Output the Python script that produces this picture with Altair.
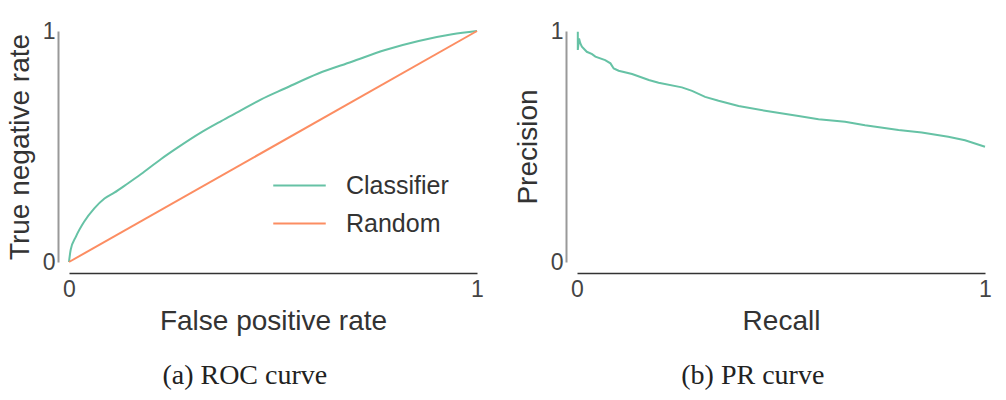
import altair as alt
import pandas as pd

# ROC curve (classifier)
roc_fpr = [0.0, 0.004, 0.017, 0.037, 0.062, 0.087, 0.111, 0.144, 0.176, 0.225, 0.266,
           0.323, 0.373, 0.417, 0.470, 0.529, 0.611, 0.693, 0.775, 0.857, 0.939, 1.0]
roc_tpr = [0.0, 0.052, 0.110, 0.174, 0.232, 0.275, 0.300, 0.340, 0.380, 0.445, 0.495,
           0.560, 0.610, 0.652, 0.703, 0.751, 0.816, 0.867, 0.918, 0.957, 0.986, 1.0]
# Random baseline
rand_fpr = [0.0, 1.0]
rand_tpr = [0.0, 1.0]
# PR curve
pr_recall = [0.002, 0.002, 0.005, 0.008, 0.012, 0.024, 0.037, 0.045, 0.069, 0.082, 0.090,
             0.102, 0.135, 0.176, 0.200, 0.257, 0.282, 0.314, 0.347, 0.396, 0.461, 0.543,
             0.592, 0.657, 0.706, 0.788, 0.845, 0.910, 0.951, 1.0]
pr_precision = [0.997, 0.918, 0.968, 0.947, 0.932, 0.910, 0.900, 0.889, 0.874, 0.860, 0.838,
                0.828, 0.814, 0.788, 0.776, 0.756, 0.741, 0.715, 0.698, 0.675, 0.655, 0.632,
                0.618, 0.607, 0.592, 0.571, 0.561, 0.542, 0.527, 0.499]

series_names = ["Classifier", "Random"]
series_colors = ["#66c2a5", "#fc8d62"]
tick_values = [0, 1]

roc_df = pd.DataFrame({
    "x": roc_fpr + rand_fpr,
    "y": roc_tpr + rand_tpr,
    "series": [series_names[0]] * len(roc_fpr) + [series_names[1]] * len(rand_fpr),
    "order": list(range(len(roc_fpr))) + list(range(len(rand_fpr))),
})
pr_df = pd.DataFrame({"x": pr_recall, "y": pr_precision, "order": list(range(len(pr_recall)))})

SANS = "Liberation Sans"
SERIF = "Liberation Serif"
W, H = 408, 231


def xaxis(title):
    return alt.Axis(title=title, values=tick_values, format="d", grid=False, ticks=False,
                    labelFlush=False, domainColor="#333333", domainWidth=1.5, offset=11,
                    labelFont=SANS, labelFontSize=23, labelColor="#444444", labelPadding=5,
                    titleFont=SANS, titleFontSize=28, titleFontWeight="normal",
                    titleColor="#333333", titlePadding=6)


def yaxis(title):
    return alt.Axis(title=title, values=tick_values, format="d", grid=False, ticks=False,
                    labelFlush=False, domainColor="#999999", domainWidth=2, offset=11,
                    labelFont=SANS, labelFontSize=23, labelColor="#444444", labelPadding=3,
                    titleFont=SANS, titleFontSize=28, titleFontWeight="normal",
                    titleColor="#333333", titlePadding=8)


roc = alt.Chart(roc_df).mark_line(strokeWidth=2, interpolate="monotone").encode(
    x=alt.X("x:Q", scale=alt.Scale(domain=[0, 1], nice=False), axis=xaxis("False positive rate")),
    y=alt.Y("y:Q", scale=alt.Scale(domain=[0, 1], nice=False), axis=yaxis("True negative rate")),
    color=alt.Color("series:N", scale=alt.Scale(domain=series_names, range=series_colors),
                    legend=alt.Legend(title=None, orient="none", legendX=212, legendY=136,
                                      padding=0, symbolType="M-1.5,0H1.5", symbolSize=1225,
                                      symbolStrokeWidth=2, labelFont=SANS, labelFontSize=25,
                                      labelColor="#333333", labelOffset=28, rowPadding=6)),
    order="order:Q",
).properties(
    width=W, height=H,
    title=alt.TitleParams("(a) ROC curve", orient="bottom", frame="bounds", anchor="middle",
                          font=SERIF, fontSize=28, fontWeight="normal", color="#222222", offset=27),
)

pr = alt.Chart(pr_df).mark_line(strokeWidth=2, color=series_colors[0]).encode(
    x=alt.X("x:Q", scale=alt.Scale(domain=[0, 1], nice=False), axis=xaxis("Recall")),
    y=alt.Y("y:Q", scale=alt.Scale(domain=[0, 1], nice=False), axis=yaxis("Precision")),
    order="order:Q",
).properties(
    width=W, height=H,
    title=alt.TitleParams("(b) PR curve", orient="bottom", frame="bounds", anchor="middle",
                          font=SERIF, fontSize=28, fontWeight="normal", color="#222222", offset=27),
)

chart = alt.hconcat(roc, pr, spacing=30).resolve_scale(color="independent").properties(
    padding={"left": 6, "top": 20, "right": 5, "bottom": 5},
    background="white",
).configure_view(stroke=None)

chart.save("out.html", embed_options={"renderer": "svg", "actions": False})
